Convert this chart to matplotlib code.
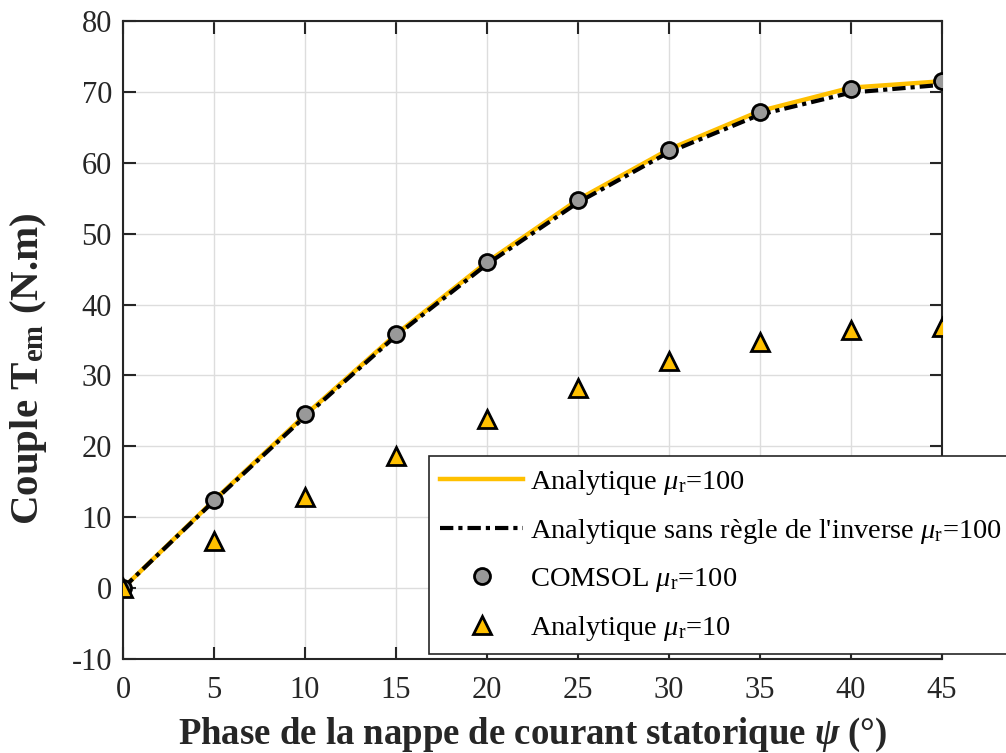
import matplotlib
matplotlib.use("Agg")
import matplotlib.pyplot as plt

psi = [0, 5, 10, 15, 20, 25, 30, 35, 40, 45]
analytique_100 = [0, 12.4, 24.4, 35.8, 46.0, 54.8, 61.9, 67.3, 70.6, 71.5]
analytique_sans_inv_100 = [0, 12.3, 24.2, 35.6, 45.7, 54.4, 61.5, 66.8, 69.9, 71.0]
comsol_100 = [0, 12.5, 24.5, 35.8, 46.0, 54.8, 61.8, 67.2, 70.4, 71.5]
analytique_10 = [0, 6.6, 12.8, 18.6, 23.8, 28.3, 32.1, 34.7, 36.4, 36.9]

xticks = [0, 5, 10, 15, 20, 25, 30, 35, 40, 45]
yticks = [-10, 0, 10, 20, 30, 40, 50, 60, 70, 80]

plt.rcParams['font.family'] = ['Liberation Serif', 'DejaVu Serif']
plt.rcParams['mathtext.fontset'] = 'custom'
plt.rcParams['mathtext.rm'] = 'Liberation Serif'
plt.rcParams['mathtext.it'] = 'Liberation Serif:italic'
plt.rcParams['mathtext.bf'] = 'Liberation Serif:bold'
plt.rcParams['mathtext.bfit'] = 'Liberation Serif:italic:bold'
plt.rcParams['axes.unicode_minus'] = False

fig = plt.figure(figsize=(10.06, 7.53), dpi=100)
ax = fig.add_axes([0.1223, 0.1248, 0.8141, 0.8473])

yellow = '#FFC000'
ax.plot(psi, analytique_100, color=yellow, lw=3.2, label=r'Analytique $\mu_\mathrm{r}$=100', zorder=3)
ax.plot(psi, analytique_sans_inv_100, color='black', lw=3.0, dashes=[3.2, 1.2, 1.0, 1.2],
        label=r"Analytique sans règle de l'inverse $\mu_\mathrm{r}$=100", zorder=4)
ax.plot(psi, comsol_100, ls='none', marker='o', ms=11.5, mfc='#999999', mec='black', mew=2,
        label=r'COMSOL $\mu_\mathrm{r}$=100', zorder=5)
ax.plot(psi, analytique_10, ls='none', marker='^', ms=12.5, mfc=yellow, mec='black', mew=2,
        label=r'Analytique $\mu_\mathrm{r}$=10', zorder=5)

ax.set_xlim(0, 45)
ax.set_ylim(-10, 80)
ax.set_xticks(xticks)
ax.set_yticks(yticks)
ax.tick_params(direction='in', length=9, width=1.5, labelsize=22, top=True, right=True,
               colors='#262626')
ax.tick_params(axis='x', pad=12)
ax.tick_params(axis='y', pad=8)
ax.grid(True, color='#dddddd', lw=1)
for s in ax.spines.values():
    s.set_linewidth(1.5)
    s.set_color('#262626')

ax.set_xlabel(r'Phase de la nappe de courant statorique $\mathbfit{\psi}$ (°)', fontsize=26.5,
              fontweight='bold', color='#262626', labelpad=8)
ax.set_ylabel(r'Couple $\mathbf{T_{em}}$ (N.m)', fontsize=29.5, fontweight='bold', color='#262626')
ax.yaxis.set_label_coords(-0.090, 0.455)

leg = ax.legend(loc='lower left', bbox_to_anchor=(429/1006, 1-654/753), bbox_transform=fig.transFigure,
                fontsize=20.5, frameon=True, fancybox=False, edgecolor='#262626', framealpha=1,
                handlelength=2.9, handletextpad=0.25, borderpad=0.4, labelspacing=0.7,
                borderaxespad=0)
leg.get_frame().set_linewidth(1.2)

fig.savefig('out.png', dpi=100)
